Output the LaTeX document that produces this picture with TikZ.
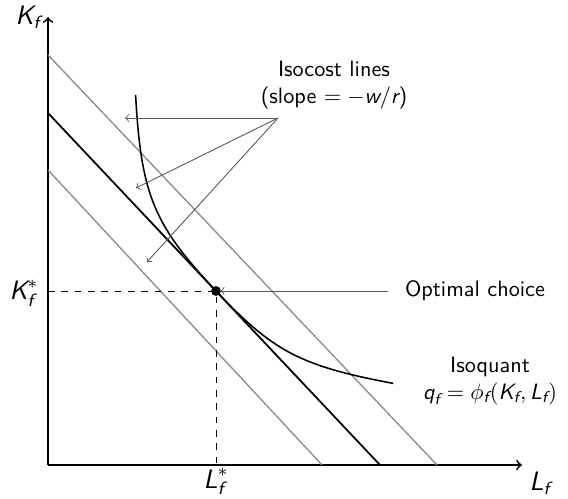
\documentclass[tikz,border=0pt]{standalone}
\usepackage{amsmath}
\renewcommand{\familydefault}{\sfdefault}
\newcommand{\mvar}[1]{\textit{#1}}

\begin{document}
\begin{tikzpicture}[
	x=0.632cm, y=0.632cm,
	axis/.style={->, thick},
	budget/.style={semithick, black!45},
	optimum/.style={thick},
	guide/.style={dashed, thin},
	pointer/.style={->, thin, black!65},
	lbl/.style={align=center},
	big/.style={font=\large}
]

\useasboundingbox (-1.2,-0.825) rectangle (13.0,11.625);

% axes
\coordinate (origin) at (0,0);
\coordinate (ytop)   at (0,11.2);
\coordinate (xtop)   at (11.85,0);
\draw[axis] (origin) -- (ytop);
\draw[axis] (origin) -- (xtop);
\node[big] (kf) at (-0.5,11.2) {$\mvar{K}_{\mvar{f}}$};
\node[big] (lf) at (12.3,-0.45)  {$\mvar{L}_{\mvar{f}}$};

% isocost lines
\coordinate (lowK)  at (0,7.375);
\coordinate (lowL)  at (6.85,0);
\coordinate (midK)  at (0,8.8);
\coordinate (midL)  at (8.3,0);
\coordinate (highK) at (0,10.25);
\coordinate (highL) at (9.725,0);
\draw[budget]  (lowK)  -- (lowL);
\draw[optimum] (midK)  -- (midL);
\draw[budget]  (highK) -- (highL);

% optimum
\coordinate (opt)   at (4.2,4.35);
\coordinate (optK)  at (0,4.35);
\coordinate (optL)  at (4.2,0);
\draw[guide] (optK) -- (opt) -- (optL);
\fill (opt) circle (2.2pt);
\node[big] (kstar) at (-0.6,4.3) {$\mvar{K}_{\mvar{f}}^{*}$};
\node[big] (lstar) at (4.2,-0.42) {$\mvar{L}_{\mvar{f}}^{*}$};

% isoquant
\draw[line width=0.7pt] (2.19,9.25) .. controls (2.33,6.74) and (2.64,6.01) .. (opt)
	.. controls (5.64,2.83) and (6.30,2.48) .. (8.63,2.04);

% labels
\node[lbl] (isocost) at (7.15,9.5) {Isocost lines\\(slope $= -\mvar{w}/\mvar{r}$)};
\coordinate (fan) at (5.75,8.675);
\coordinate (tipA) at (1.925,8.675);
\coordinate (tipB) at (2.2,6.925);
\coordinate (tipC) at (2.475,5.075);
\draw[pointer] (fan) -- (tipA);
\draw[pointer] (fan) -- (tipB);
\draw[pointer] (fan) -- (tipC);

\node[lbl] (choice) at (10.675,4.35) {Optimal choice};
\coordinate (choiceend) at (8.5,4.35);
\draw[pointer] (choiceend) -- ([xshift=2pt]opt);

\node[lbl] (isoquant) at (11.05,2.1) {Isoquant\\$\mvar{q}_{\mvar{f}} = \phi_{\mvar{f}}(\mvar{K}_{\mvar{f}}, \mvar{L}_{\mvar{f}})$};

\end{tikzpicture}
\end{document}
